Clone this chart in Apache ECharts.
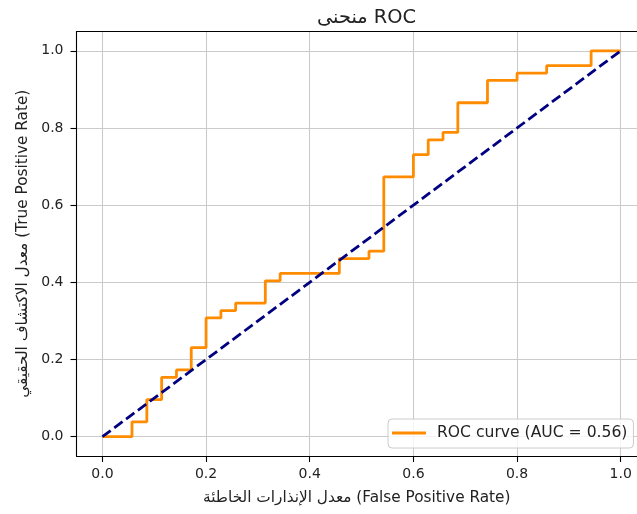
<!DOCTYPE html>
<html>
<head>
<meta charset="utf-8">
<script src="https://cdn.jsdelivr.net/npm/echarts@6/dist/echarts.min.js"></script>
<style>html,body{margin:0;padding:0;background:#fff}#c{width:637px;height:514px}</style>
</head>
<body>
<div id="c"></div>
<script>
const fpr = [0, 0.0571, 0.0571, 0.0857, 0.0857, 0.1143, 0.1143, 0.1429, 0.1429, 0.1714, 0.1714, 0.2, 0.2, 0.2286, 0.2286, 0.2571, 0.2571, 0.3143, 0.3143, 0.3429, 0.3429, 0.4571, 0.4571, 0.5143, 0.5143, 0.5429, 0.5429, 0.6, 0.6, 0.6286, 0.6286, 0.6571, 0.6571, 0.6857, 0.6857, 0.7429, 0.7429, 0.8, 0.8, 0.8571, 0.8571, 0.9429, 0.9429, 1.0];
const tpr = [0, 0, 0.0385, 0.0385, 0.0962, 0.0962, 0.1538, 0.1538, 0.1731, 0.1731, 0.2308, 0.2308, 0.3077, 0.3077, 0.3269, 0.3269, 0.3462, 0.3462, 0.4038, 0.4038, 0.4231, 0.4231, 0.4615, 0.4615, 0.4808, 0.4808, 0.6731, 0.6731, 0.7308, 0.7308, 0.7692, 0.7692, 0.7885, 0.7885, 0.8654, 0.8654, 0.9231, 0.9231, 0.9423, 0.9423, 0.9615, 0.9615, 1.0, 1.0];
const diagX = [0, 1];
const diagY = [0, 1];
const xTicks = [0, 0.2, 0.4, 0.6, 0.8, 1.0];
const yTicks = [0, 0.2, 0.4, 0.6, 0.8, 1.0];
const rocName = 'ROC curve (AUC = 0.56)';
const titleText = 'منحنى ROC';
const xLabel = 'معدل الإنذارات الخاطئة (False Positive Rate)';
const yLabel = 'معدل الاكتشاف الحقيقي (True Positive Rate)';

const FONT = 'DejaVu Sans';
const chart = echarts.init(document.getElementById('c'), null, {renderer: 'canvas'});
const axisCommon = (ticks, mx, margin) => ({
  type: 'value', min: -0.05, max: mx,
  axisLine: {show: true, onZero: false, lineStyle: {color: '#000', width: 1.1}},
  axisTick: {show: true, inside: false, length: 6, customValues: ticks, lineStyle: {color: '#000', width: 1.1}},
  axisLabel: {show: true, customValues: ticks, margin: margin, color: '#222', fontFamily: FONT, fontSize: 14,
    formatter: v => v.toFixed(1)},
  splitLine: {show: true, lineStyle: {color: '#cbcbcb', width: 1.1}},
  nameLocation: 'middle',
  nameTextStyle: {color: '#222', fontFamily: FONT, fontSize: 15.3}
});
const xa = axisCommon(xTicks, 1.0314, 11); xa.name = xLabel; xa.nameGap = 35;
const xTop = {type: 'value', position: 'top', min: -0.05, max: 1.0314,
  axisLine: {show: true, onZero: false, lineStyle: {color: '#000', width: 1.1}},
  axisTick: {show: false}, axisLabel: {show: false}, splitLine: {show: false}};
const ya = axisCommon(yTicks, 1.05, 13); ya.name = yLabel; ya.nameGap = 46; ya.nameRotate = 90;

chart.setOption({
  animation: false,
  backgroundColor: '#fff',
  title: {text: titleText, left: 361.5, top: 3, textAlign: 'center',
    textStyle: {fontFamily: FONT, fontSize: 19.4, fontWeight: 'normal', color: '#222'}},
  grid: {left: 76.5, top: 31.5, right: 0, bottom: 58, show: false, containLabel: false},
  legend: {
    data: [rocName], left: 388, top: 419, orient: 'vertical',
    icon: 'rect', itemWidth: 34, itemHeight: 2.8,
    padding: [6, 6, 7, 4],
    backgroundColor: 'rgba(255,255,255,0.8)', borderColor: '#cccccc', borderWidth: 1, borderRadius: 4,
    textStyle: {fontFamily: FONT, fontSize: 15.6, color: '#222', padding: [0, 0, 0, 6]}
  },
  xAxis: [xa, xTop],
  yAxis: ya,
  series: [
    {name: rocName, type: 'line', data: fpr.map((x, i) => [x, tpr[i]]), showSymbol: false, symbol: 'none',
      lineStyle: {color: '#ff8c00', width: 2.8}, itemStyle: {color: '#ff8c00'}},
    {name: 'diag', type: 'line', data: diagX.map((x, i) => [x, diagY[i]]), showSymbol: false, symbol: 'none',
      lineStyle: {color: '#000080', width: 2.8, type: [10.3, 4.45]}, itemStyle: {color: '#000080'}}
  ]
});
</script>
</body>
</html>
